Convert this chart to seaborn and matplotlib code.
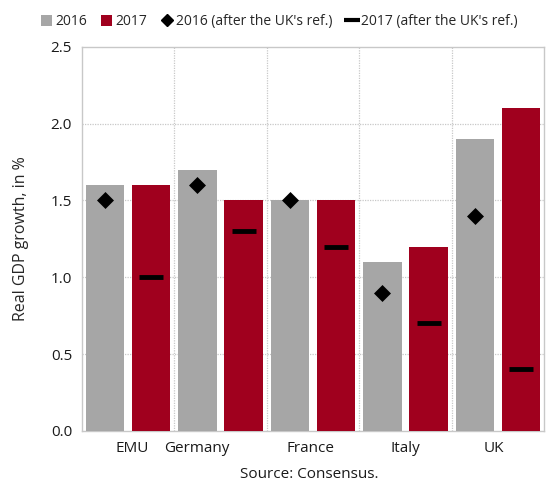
import matplotlib
matplotlib.use("Agg")
import matplotlib.pyplot as plt
import seaborn as sns
import pandas as pd
import numpy as np
from matplotlib.lines import Line2D
from matplotlib.patches import Patch

categories = ["EMU", "Germany", "France", "Italy", "UK"]
g2016 = [1.6, 1.7, 1.5, 1.1, 1.9]
g2017 = [1.6, 1.5, 1.5, 1.2, 2.1]
after2016 = [1.5, 1.6, 1.5, 0.9, 1.4]
after2017 = [1.0, 1.3, 1.2, 0.7, 0.4]
yticks = [0.0, 0.5, 1.0, 1.5, 2.0, 2.5]

GRAY = "#A6A6A6"
RED = "#A0001E"

sns.set_theme(style="white")
plt.rcParams["font.family"] = ["Open Sans", "DejaVu Sans"]

df = pd.DataFrame({
    "country": categories * 2,
    "year": ["2016"] * 5 + ["2017"] * 5,
    "growth": g2016 + g2017,
})

fig = plt.figure(figsize=(5.53, 4.83), dpi=100)
ax = fig.add_axes([0.148, 0.108, 0.836, 0.795])

sns.barplot(data=df, x="country", y="growth", hue="year", order=categories,
            hue_order=["2016", "2017"], palette=[GRAY, RED], width=1.0, gap=0.17,
            saturation=1, dodge=True, legend=False, ax=ax, zorder=3, edgecolor="none")

idx = np.arange(len(categories))
ax.scatter(idx - 0.25, after2016, marker="D", s=75, color="black", zorder=5, linewidths=0)
ax.scatter(idx + 0.25, after2017, marker="_", s=300, color="black", zorder=5, linewidths=3.5)

ax.set_ylim(0, 2.5)
ax.set_xlim(-0.5, 4.5)
ax.set_yticks(yticks)
ax.set_yticklabels([f"{v:.1f}" for v in yticks], fontsize=11)
for y in yticks[1:-1]:
    ax.axhline(y, color="#C8C8C8", lw=0.9, ls=(0, (1, 1)), zorder=1)
for x in [0.5, 1.5, 2.5, 3.5]:
    ax.axvline(x, color="#C8C8C8", lw=0.9, ls=(0, (1, 1)), zorder=1)

ax.set_xticks([0.04, 0.74, 1.97, 3.0, 3.96])
ax.set_xticklabels(categories, fontsize=11)
ax.tick_params(axis="both", length=0, pad=7, colors="#1a1a1a")
ax.set_xlabel("")
ax.set_ylabel("Real GDP growth, in %", fontsize=11.5, labelpad=16)

for s in ax.spines.values():
    s.set_color("#C8C8C8")
    s.set_linewidth(1.0)

handles = [
    Patch(facecolor=GRAY, edgecolor="none", label="2016"),
    Patch(facecolor=RED, edgecolor="none", label="2017"),
    Line2D([], [], marker="D", color="black", ls="none", markersize=6, label="2016 (after the UK's ref.)"),
    Line2D([], [], marker="_", color="black", ls="none", markersize=12, markeredgewidth=3, label="2017 (after the UK's ref.)"),
]
fig.legend(handles=handles, loc="center", bbox_to_anchor=(0.505, 0.955), ncol=4, frameon=False,
           fontsize=10, handlelength=0.8, handletextpad=0.25, columnspacing=1.0, handleheight=0.8,
           borderaxespad=0, borderpad=0)

fig.text(0.56, 0.018, "Source: Consensus.", ha="center", va="center", fontsize=11, color="#1a1a1a")

fig.savefig("out.png", dpi=100)
